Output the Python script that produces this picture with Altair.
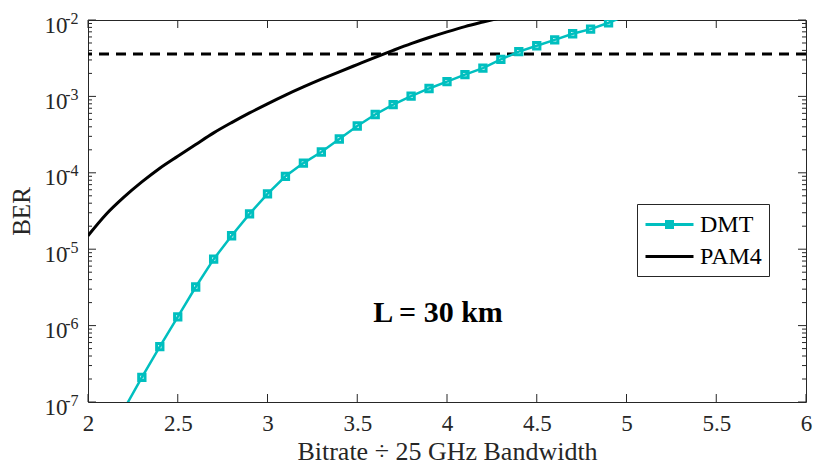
import altair as alt
import pandas as pd

# ---------------- data ----------------
dmt_rate = [2.2, 2.3, 2.4, 2.5, 2.6, 2.7, 2.8, 2.9, 3.0, 3.1, 3.2, 3.3, 3.4, 3.5,
            3.6, 3.7, 3.8, 3.9, 4.0, 4.1, 4.2, 4.3, 4.4, 4.5, 4.6, 4.7, 4.8, 4.9, 5.0]
dmt_ber = [8.0e-8, 2.1e-7, 5.3e-7, 1.3e-6, 3.2e-6, 7.4e-6, 1.5e-5, 2.9e-5, 5.3e-5,
           9.0e-5, 1.34e-4, 1.87e-4, 2.77e-4, 4.1e-4, 5.8e-4, 7.8e-4, 1.01e-3,
           1.27e-3, 1.56e-3, 1.93e-3, 2.35e-3, 3.05e-3, 3.85e-3, 4.6e-3, 5.5e-3,
           6.6e-3, 7.6e-3, 9.2e-3, 1.15e-2]

pam4_rate = [2.0, 2.1, 2.2, 2.3, 2.4, 2.5, 2.6, 2.7, 2.8, 2.9, 3.0, 3.1, 3.2, 3.3,
             3.4, 3.5, 3.6, 3.7, 3.8, 3.9, 4.0, 4.1, 4.2, 4.3]
pam4_ber = [1.5e-5, 2.85e-5, 4.8e-5, 7.6e-5, 1.15e-4, 1.65e-4, 2.35e-4, 3.33e-4,
            4.54e-4, 6.08e-4, 8.0e-4, 1.04e-3, 1.33e-3, 1.68e-3, 2.1e-3, 2.61e-3,
            3.24e-3, 4.0e-3, 4.9e-3, 5.9e-3, 7.0e-3, 8.2e-3, 9.4e-3, 1.07e-2]

fec_threshold = [3.6e-3]

annot_rate = [3.95]
annot_ber = [1.12e-6]
annot_text = ["L = 30 km"]

series_names = ["DMT", "PAM4"]
x_ticks = [2, 2.5, 3, 3.5, 4, 4.5, 5, 5.5, 6]
y_decades = [1e-7, 1e-6, 1e-5, 1e-4, 1e-3, 1e-2]
y_minor = [m * 10.0 ** e for e in range(-7, -2) for m in range(1, 10)] + [1e-2]

# ---------------- style ----------------
W, H = 718, 382
FONT = "Liberation Serif"
AX = "#262626"
TEAL = "#00BFBF"
series_colors = [TEAL, "#000000"]
legend_paths = ["M-2,0H2M-0.25,-0.25H0.25V0.25H-0.25Z", "M-2,0H2"]

dmt_df = pd.DataFrame({"rate": dmt_rate, "ber": dmt_ber, "series": "DMT"})
pam4_df = pd.DataFrame({"rate": pam4_rate, "ber": pam4_ber, "series": "PAM4"})
thr_df = pd.DataFrame({"ber": fec_threshold})
txt_df = pd.DataFrame({"rate": annot_rate, "ber": annot_ber, "label": annot_text})
xt_df = pd.DataFrame({"rate": x_ticks})
yt_df = pd.DataFrame({"ber": y_minor})

x_scale = alt.Scale(domain=[2, 6], nice=False, zero=False)
y_scale = alt.Scale(type="log", domain=[1e-7, 1e-2], nice=False)

x_enc = alt.X(
    "rate:Q", scale=x_scale,
    axis=alt.Axis(orient="bottom", values=x_ticks, labelExpr="'' + datum.value",
                  ticks=False, domain=False, grid=False, labelFlush=False,
                  labelOverlap=False, labelFont=FONT, labelFontSize=23,
                  labelColor=AX, labelPadding=10,
                  title="Bitrate ÷ 25 GHz Bandwidth", titleFont=FONT,
                  titleFontSize=26, titleFontWeight="normal", titleColor=AX,
                  titlePadding=3),
)
y_enc = alt.Y(
    "ber:Q", scale=y_scale,
    axis=alt.Axis(orient="left", values=y_decades, labelExpr="'10'",
                  ticks=False, domain=False, grid=False, labelFlush=False,
                  labelOverlap=False, labelFont=FONT, labelFontSize=23,
                  labelColor=AX, labelPadding=21, labelBaseline="alphabetic",
                  labelOffset=12, title="BER", titleFont=FONT, titleFontSize=25,
                  titleFontWeight="normal", titleColor=AX, titlePadding=10),
)
x_plain = alt.X("rate:Q", scale=x_scale, axis=None)
y_plain = alt.Y("ber:Q", scale=y_scale, axis=None)

thr = alt.Chart(thr_df).mark_rule(color="black", strokeWidth=3, strokeDash=[10, 7]).encode(y=y_enc)

pam4_line = alt.Chart(pam4_df).mark_line(
    color="black", strokeWidth=3, clip=True, interpolate="monotone"
).encode(x=x_enc, y=y_enc)

dmt_line = alt.Chart(dmt_df).mark_line(color=TEAL, strokeWidth=2.5, clip=True).encode(x=x_enc, y=y_enc)

dmt_pts = (
    alt.Chart(dmt_df)
    .transform_filter("datum.ber >= 1e-7 && datum.ber <= 1e-2")
    .mark_point(shape="square", filled=False, size=40, strokeWidth=3,
                color=TEAL, opacity=1, clip=True)
    .encode(x=x_enc, y=y_enc)
)

annot = alt.Chart(txt_df).mark_text(
    font=FONT, fontSize=30, fontWeight="bold", align="center",
    baseline="alphabetic", color="black"
).encode(x=x_enc, y=y_enc, text="label:N")

leg = alt.Legend(orient="none", legendX=549, legendY=184, title=None,
                 labelFont=FONT, labelFontSize=24, labelColor="black",
                 symbolSize=576, symbolStrokeWidth=3, symbolOffset=12,
                 labelOffset=17, padding=7, rowPadding=6,
                 strokeColor=AX, fillColor="white")

legend_layer = (
    alt.Chart(dmt_df)
    .transform_filter("false")
    .mark_point(filled=False, strokeWidth=3, opacity=1)
    .encode(
        x=x_enc, y=y_enc,
        color=alt.Color("series:N", scale=alt.Scale(domain=series_names, range=series_colors), legend=leg),
        shape=alt.Shape("series:N", scale=alt.Scale(domain=series_names, range=legend_paths), legend=leg),
    )
)

main = alt.layer(thr, pam4_line, dmt_line, dmt_pts, annot, legend_layer)

# inward ticks on all four sides (positions from the tick arrays via the scales)
major_test = "abs(log(datum.ber)/LN10 - round(log(datum.ber)/LN10)) < 0.001"
minor_test = "abs(log(datum.ber)/LN10 - round(log(datum.ber)/LN10)) >= 0.001"

tick_rule = dict(color=AX, strokeWidth=1)
xt_bottom = alt.Chart(xt_df).mark_rule(**tick_rule).encode(x=x_plain, y=alt.value(H), y2=alt.value(H - 8))
xt_top = alt.Chart(xt_df).mark_rule(**tick_rule).encode(x=x_plain, y=alt.value(0), y2=alt.value(8))
yt_major = alt.Chart(yt_df).transform_filter(major_test)
yt_minor = alt.Chart(yt_df).transform_filter(minor_test)
yt_l_major = yt_major.mark_rule(**tick_rule).encode(y=y_plain, x=alt.value(0), x2=alt.value(8))
yt_r_major = yt_major.mark_rule(**tick_rule).encode(y=y_plain, x=alt.value(W), x2=alt.value(W - 8))
yt_l_minor = yt_minor.mark_rule(**tick_rule).encode(y=y_plain, x=alt.value(0), x2=alt.value(4))
yt_r_minor = yt_minor.mark_rule(**tick_rule).encode(y=y_plain, x=alt.value(W), x2=alt.value(W - 4))

ticks = alt.layer(xt_bottom, xt_top, yt_l_major, yt_r_major, yt_l_minor, yt_r_minor)

# superscript exponents of the y tick labels
exp_layer = alt.Chart(dmt_df).mark_point(opacity=0).encode(
    x=alt.X("rate:Q", scale=x_scale, axis=None),
    y=alt.Y("ber:Q", scale=y_scale,
            axis=alt.Axis(orient="left", offset=0, values=y_decades,
                          labelExpr="'-' + (-round(log(datum.value)/LN10))",
                          ticks=False, domain=False, grid=False, labelFlush=False,
                          labelOverlap=False, labelFont=FONT, labelFontSize=16,
                          labelColor=AX, labelPadding=10, labelBaseline="alphabetic",
                          labelOffset=3, title=None)),
)

chart = (
    alt.layer(main, ticks, exp_layer)
    .resolve_scale(x="independent", y="independent")
    .properties(width=W, height=H, autosize=alt.AutoSizeParams(type="none"),
                padding={"left": 88, "top": 20, "right": 7, "bottom": 68})
    .configure_view(stroke=AX, strokeWidth=1)
)

chart.save("out.html", embed_options={"renderer": "svg", "actions": False})
